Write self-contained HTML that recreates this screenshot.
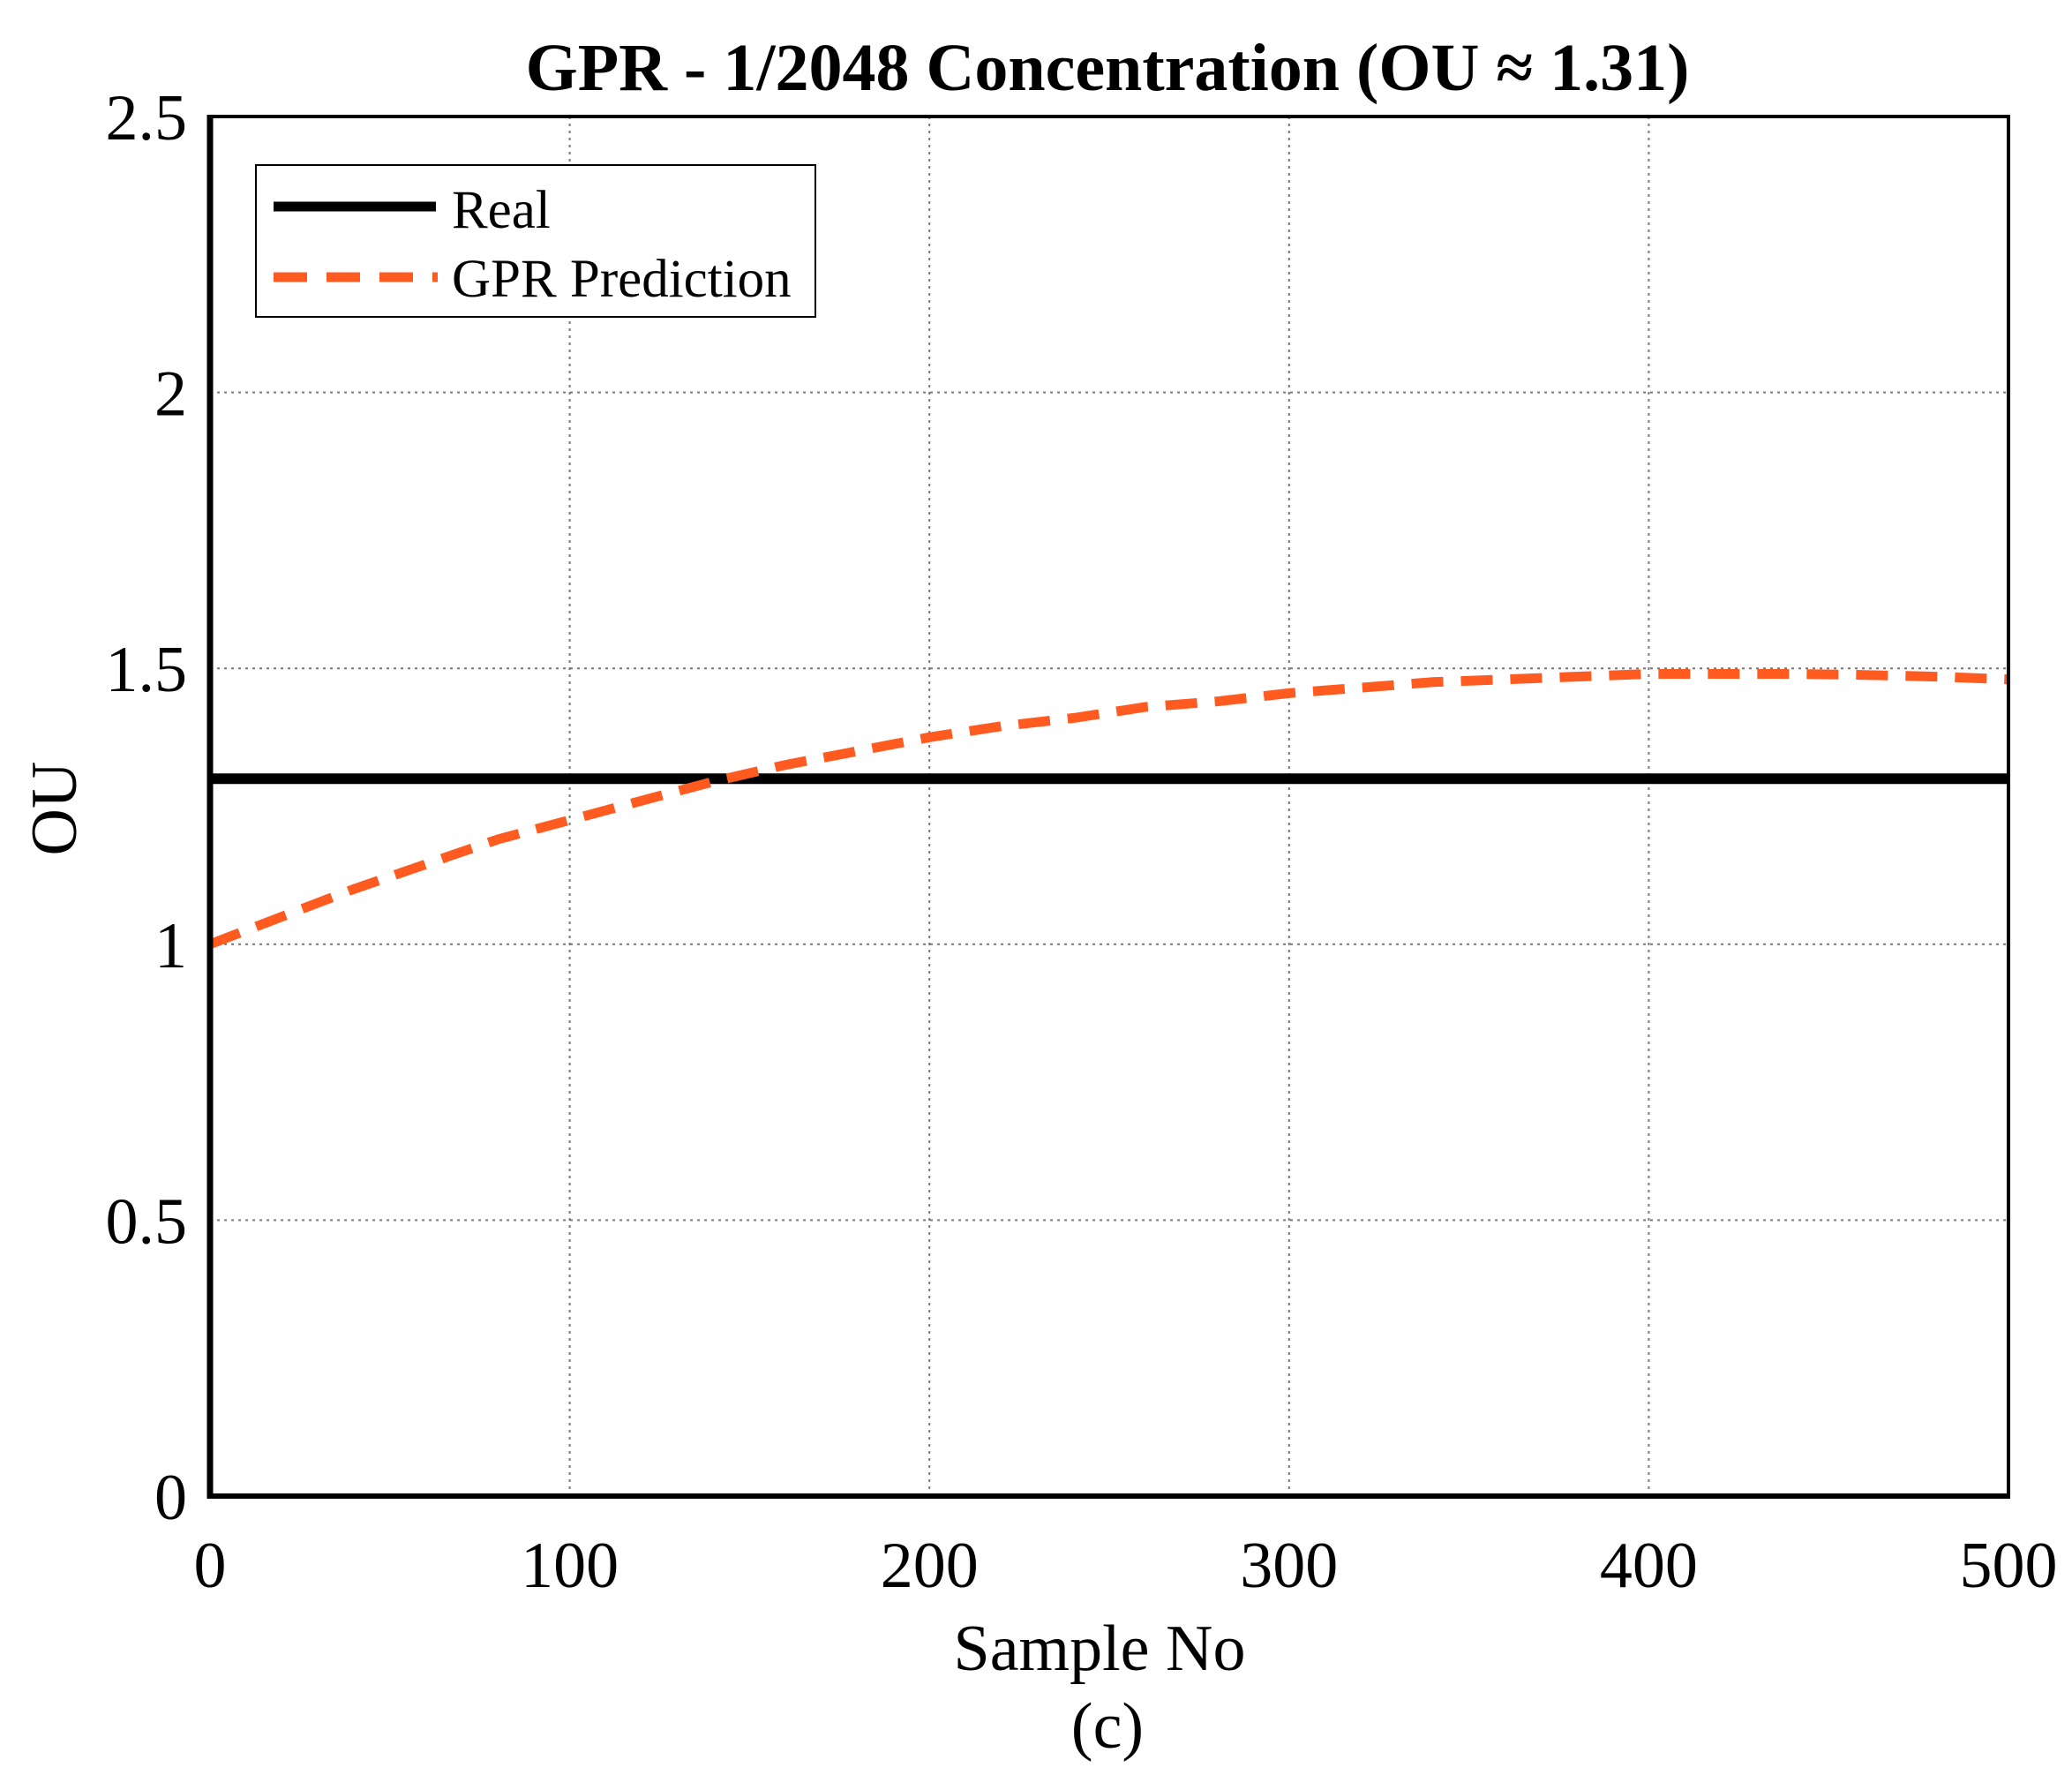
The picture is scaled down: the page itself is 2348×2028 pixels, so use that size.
<!DOCTYPE html>
<html><head><meta charset="utf-8"><style>
html,body{margin:0;padding:0;background:#fff}
svg{display:block}
text{font-family:"Liberation Serif",serif;fill:#000}
</style></head><body>
<svg id="chart" width="2348" height="2028" viewBox="0 0 2348 2028">
<text x="1255" y="102" font-size="76" font-weight="bold" text-anchor="middle">GPR - 1/2048 Concentration (OU ≈ 1.31)</text>
<g id="grid"></g>
<g id="ticks"></g>
<g id="series"></g>
<rect x="238" y="132" width="2038" height="1563" fill="none" stroke="#000" stroke-width="4"/>
<line x1="238" y1="130" x2="238" y2="1698" stroke="#000" stroke-width="7"/>
<line x1="235" y1="1695" x2="2278" y2="1695" stroke="#000" stroke-width="6"/>
<text x="60" y="916" font-size="74" text-anchor="middle" transform="rotate(-90 60 916)" dy="26">OU</text>
<text x="1246" y="1892" font-size="74" text-anchor="middle">Sample No</text>
<text x="1255" y="1980" font-size="74" text-anchor="middle">(c)</text>
<g>
<rect x="290" y="187" width="634" height="172" fill="#fff" stroke="#000" stroke-width="2"/>
<line x1="310" y1="234" x2="494" y2="234" stroke="#000" stroke-width="11"/>
<text x="512" y="258" font-size="61">Real</text>
<line x1="310" y1="314" x2="496" y2="314" stroke="#ff5a1f" stroke-width="11" stroke-dasharray="38,22"/>
<text x="512" y="336" font-size="61">GPR Prediction</text>
</g>
</svg>
<script>
const xTicks=[0,100,200,300,400,500];
const yTicks=[0,0.5,1,1.5,2,2.5];
const yTickLabels=["0","0.5","1","1.5","2","2.5"];
const realValue=[1.3,1.3];
const realX=[0,500];
const predX=[0,20,40,60,80,100,120,140,160,180,200,220,240,260,280,300,320,340,360,380,400,420,440,460,480,500];
const predY=[1.0,1.05,1.1,1.145,1.19,1.225,1.26,1.295,1.325,1.35,1.375,1.395,1.41,1.43,1.44,1.455,1.465,1.475,1.48,1.485,1.49,1.49,1.49,1.488,1.485,1.48];
const X0=238,X1=2276,Y0=1695,Y1=132;
function sx(v){return X0+(v-0)/(500-0)*(X1-X0);}
function sy(v){return Y0-(v-0)/(2.5-0)*(Y0-Y1);}
const NS="http://www.w3.org/2000/svg";
const grid=document.getElementById('grid'),ticks=document.getElementById('ticks'),series=document.getElementById('series');
function mk(tag,attrs,parent){const e=document.createElementNS(NS,tag);for(const k in attrs)e.setAttribute(k,attrs[k]);parent.appendChild(e);return e;}
xTicks.forEach(function(v){
  const l=mk('line',{x1:sx(v),y1:Y1,x2:sx(v),y2:Y0,stroke:'#777','stroke-width':2,'stroke-dasharray':'3,5'},grid);
  
  
  const t=mk('text',{x:sx(v),y:1798,'font-size':74,'text-anchor':'middle'},ticks);
  t.textContent=String(v);
  
  
});
yTicks.forEach(function(v,i){
  const l=mk('line',{x1:X0,y1:sy(v),x2:X1,y2:sy(v),stroke:'#777','stroke-width':2,'stroke-dasharray':'3,5'},grid);
  
  
  const t=mk('text',{x:212,y:sy(v)+26,'font-size':74,'text-anchor':'end'},ticks);
  t.textContent=yTickLabels[i];
  
  
});
const real=mk('line',{x1:sx(realX[0]),y1:sy(realValue[0]),x2:sx(realX[1]),y2:sy(realValue[1]),stroke:'#000','stroke-width':12},series);


let d='';predX.forEach(function(x,i){d+=(i?'L':'M')+sx(x).toFixed(1)+','+sy(predY[i]).toFixed(1);});
const pred=mk('path',{d:d,fill:'none',stroke:'#ff5a1f','stroke-width':11,'stroke-dasharray':'36,20'},series);


</script>
</body></html>
